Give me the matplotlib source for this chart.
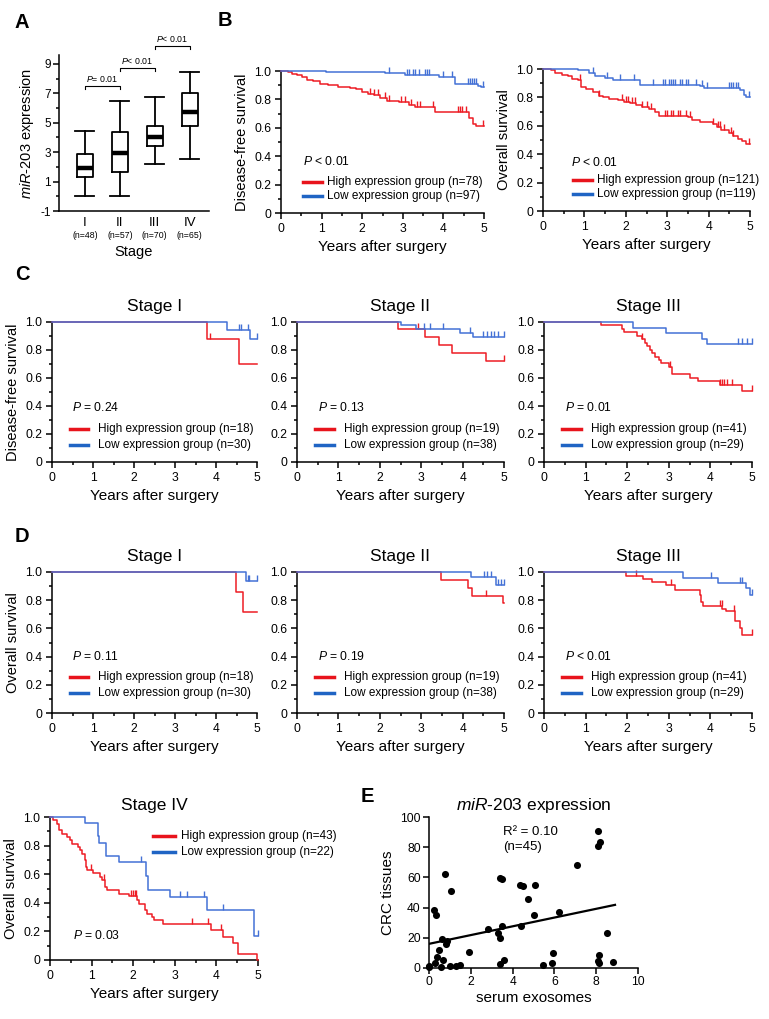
import matplotlib
matplotlib.use('Agg')
import matplotlib.pyplot as plt
import numpy as np
from matplotlib.ticker import MultipleLocator, FixedLocator

plt.rcParams['font.family'] = ['Liberation Sans', 'DejaVu Sans']
plt.rcParams['mathtext.fontset'] = 'custom'
plt.rcParams['mathtext.rm'] = 'Liberation Sans'
plt.rcParams['mathtext.it'] = 'Liberation Sans:italic'
plt.rcParams['axes.linewidth'] = 1.1
plt.rcParams['axes.unicode_minus'] = False

RED = '#ee1c24'
BLUE = '#4471d6'
LRED = '#e8141c'
LBLUE = '#1f64c4'

# ---------------- Panel A data ----------------
stages = ['I', 'II', 'III', 'IV']
stage_n = [48, 57, 70, 65]
box_low = [0.0, 0.0, 2.2, 2.5]
box_q1 = [1.3, 1.65, 3.45, 4.75]
box_med = [1.95, 2.95, 4.05, 5.7]
box_q3 = [2.85, 4.4, 4.75, 7.05]
box_high = [4.45, 6.45, 6.75, 8.45]
brk_left = [1, 2, 3]
brk_right = [2, 3, 4]
brk_y = [7.5, 8.75, 10.2]
brk_text = ['= 0.01', '< 0.01', '< 0.01']

# ---------------- Panel B data ----------------
bdfs_high_t = [0.18, 0.28, 0.4, 0.52, 0.63, 0.8, 0.95, 1.15, 1.4, 1.7, 1.85, 2.0, 2.15, 2.3, 2.45, 2.6, 2.9, 3.15, 3.3, 3.8, 4.62, 4.72, 4.8]
bdfs_high_s = [0.99, 0.98, 0.97, 0.96, 0.94, 0.93, 0.91, 0.90, 0.89, 0.88, 0.87, 0.85, 0.84, 0.83, 0.81, 0.79, 0.78, 0.76, 0.75, 0.71, 0.67, 0.63, 0.61]
bdfs_high_c = [2.2, 2.3, 2.38, 2.55, 2.65, 2.95, 3.05, 3.2, 3.35, 3.42, 3.75, 4.35, 4.4, 4.45, 4.55, 4.98]
bdfs_low_t = [1.1, 2.55, 3.05, 3.88, 4.28, 4.85, 4.93]
bdfs_low_s = [0.995, 0.985, 0.97, 0.955, 0.91, 0.895, 0.885]
bdfs_low_c = [2.65, 3.1, 3.15, 3.25, 3.3, 3.4, 3.55, 3.6, 3.65, 4.0, 4.2, 4.6, 4.65, 4.7, 4.75, 4.8, 4.98]

bos_high_t = [0.2, 0.3, 0.45, 0.6, 0.7, 0.85, 0.92, 1.05, 1.2, 1.35, 1.45, 1.6, 1.8, 1.95, 2.1, 2.25, 2.4, 2.55, 2.7, 2.8, 3.5, 3.6, 3.8, 4.1, 4.2, 4.3, 4.5, 4.6, 4.7, 4.8, 4.9]
bos_high_s = [0.99, 0.97, 0.96, 0.95, 0.93, 0.92, 0.87, 0.86, 0.84, 0.81, 0.80, 0.79, 0.78, 0.77, 0.76, 0.75, 0.73, 0.72, 0.70, 0.67, 0.66, 0.64, 0.63, 0.61, 0.59, 0.57, 0.55, 0.53, 0.51, 0.49, 0.47]
bos_high_c = [0.9, 1.35, 1.9, 2.0, 2.05, 2.15, 2.22, 2.4, 2.5, 2.6, 2.95, 3.0, 3.1, 3.15, 3.25, 3.3, 3.45, 3.55, 4.1, 4.22, 4.28, 4.38, 4.55, 4.6, 4.98]
bos_low_t = [0.85, 1.1, 1.25, 1.5, 1.7, 2.35, 3.8, 3.9, 4.75, 4.85, 4.9]
bos_low_s = [0.99, 0.97, 0.95, 0.935, 0.92, 0.89, 0.88, 0.865, 0.85, 0.82, 0.805]
bos_low_c = [1.2, 1.55, 1.85, 2.2, 2.65, 2.9, 2.95, 3.05, 3.1, 3.15, 3.2, 3.3, 3.35, 3.45, 3.5, 3.7, 3.85, 3.95, 4.5, 4.55, 4.6, 4.65, 4.7, 4.98]

# ---------------- Panel C data (DFS by stage) ----------------
c1_high_t = [3.79, 4.57]
c1_high_s = [0.875, 0.70]
c1_high_c = [3.85]
c1_low_t = [4.27, 4.83]
c1_low_s = [0.945, 0.88]
c1_low_c = [4.57, 4.61, 4.78, 5.0]

c2_high_t = [2.45, 3.08, 3.42, 3.74, 4.57]
c2_high_s = [0.947, 0.89, 0.835, 0.78, 0.72]
c2_high_c = [2.93, 5.0]
c2_low_t = [2.5, 2.88, 3.93, 4.25]
c2_low_s = [0.975, 0.95, 0.92, 0.89]
c2_low_c = [3.06, 3.22, 3.53, 4.19, 4.5, 4.6, 4.68, 4.75, 4.85, 5.0]

c3_high_t = [1.36, 1.88, 1.93, 2.23, 2.36, 2.42, 2.48, 2.54, 2.6, 2.66, 2.76, 2.82, 3.0, 3.08, 3.51, 3.71, 4.23, 4.75]
c3_high_s = [0.975, 0.95, 0.925, 0.90, 0.875, 0.85, 0.825, 0.80, 0.775, 0.75, 0.73, 0.705, 0.68, 0.63, 0.60, 0.575, 0.55, 0.51]
c3_high_c = [2.36, 3.04, 4.23, 4.28, 4.33, 4.39, 4.51, 5.0]
c3_low_t = [2.13, 2.93, 3.81, 3.93]
c3_low_s = [0.96, 0.92, 0.88, 0.84]
c3_low_c = [4.66, 4.75, 4.87, 5.0]

# ---------------- Panel D data (OS by stage) ----------------
d1_high_t = [4.49, 4.67]
d1_high_s = [0.86, 0.715]
d1_high_c = []
d1_low_t = [4.73]
d1_low_s = [0.935]
d1_low_c = [4.79, 4.81, 5.0]

d2_high_t = [3.48, 4.12, 4.22, 4.98]
d2_high_s = [0.945, 0.89, 0.83, 0.78]
d2_high_c = [4.56]
d2_low_t = [4.2, 4.81]
d2_low_s = [0.965, 0.905]
d2_low_c = [4.52, 4.6, 4.68, 4.85, 4.93, 5.0]

d3_high_t = [1.98, 2.38, 2.6, 2.93, 3.16, 3.74, 3.78, 3.82, 4.28, 4.38, 4.6, 4.72, 4.76]
d3_high_s = [0.975, 0.95, 0.93, 0.905, 0.875, 0.84, 0.79, 0.76, 0.74, 0.72, 0.65, 0.60, 0.55]
d3_high_c = [2.22, 3.05, 4.24, 4.27, 4.56, 5.0]
d3_low_t = [3.34, 4.19, 4.86, 4.94]
d3_low_s = [0.96, 0.925, 0.89, 0.84]
d3_low_c = [4.01, 4.7, 4.75, 5.0]

iv_high_t = [0.08, 0.16, 0.22, 0.3, 0.4, 0.48, 0.52, 0.68, 0.72, 0.76, 0.84, 0.87, 0.9, 1.04, 1.2, 1.24, 1.32, 1.36, 1.67, 1.89, 2.09, 2.15, 2.28, 2.34, 2.45, 2.5, 2.71, 3.88, 4.16, 4.41, 4.53, 4.98]
iv_high_s = [0.977, 0.953, 0.907, 0.884, 0.86, 0.837, 0.814, 0.79, 0.767, 0.744, 0.70, 0.65, 0.628, 0.605, 0.58, 0.558, 0.512, 0.49, 0.465, 0.45, 0.42, 0.395, 0.35, 0.325, 0.30, 0.28, 0.25, 0.21, 0.16, 0.12, 0.045, 0.0]
iv_high_c = [0.98, 1.3, 1.94, 2.0, 2.04, 2.07, 3.41, 3.81, 4.11]
iv_low_t = [0.84, 1.15, 1.18, 1.35, 1.65, 2.3, 2.35, 2.89, 3.78, 4.9]
iv_low_s = [0.955, 0.864, 0.818, 0.727, 0.682, 0.59, 0.49, 0.44, 0.35, 0.17]
iv_low_c = [2.19, 3.13, 3.29, 3.69, 4.15, 5.0]

# ---------------- Panel E data ----------------
exo_x = [8.1, 8.19, 8.11, 7.07, 0.75, 3.42, 3.47, 4.35, 4.48, 5.07, 1.04, 4.75, 0.22, 0.35, 5.04,
         6.22, 3.47, 4.38, 2.83, 3.31, 8.51, 3.42, 0.61, 0.88, 0.83, 0.48, 1.9, 5.95, 8.14, 0.4,
         0.67, 3.6, 8.08, 8.13, 8.8, 0.27, 3.42, 5.9, 5.47, 0.0, 0.59, 0.99, 1.31, 1.47, 0.02]
tis_y = [90.5, 83.5, 80.5, 68, 62, 59.5, 59, 55, 54, 55, 51, 46, 38.5, 35, 35,
         37, 28, 28, 26, 23, 23, 20, 19, 18, 16, 12, 10.5, 10, 8.5, 7.5,
         5, 5.5, 4.5, 3.5, 4, 3, 2.5, 3, 2, 1.5, 0.5, 1.5, 1.5, 2, 0.7]
fit_intercept = 16.0
fit_slope = 2.9
fit_xmax = 8.9

W, H = 769, 1019
fig = plt.figure(figsize=(W / 100, H / 100), dpi=100)


def rect(x0, x1, y0, y1):
    return [x0 / W, 1 - y1 / H, (x1 - x0) / W, (y1 - y0) / H]


def ptext(x, y, s, **kw):
    fig.text(x / W, 1 - y / H, s, **kw)


# ---------------- Panel A ----------------
axA = fig.add_axes(rect(59, 209, 55, 211))
stats = [dict(med=m, q1=a, q3=b, whislo=lo, whishi=hi, label=lab)
         for m, a, b, lo, hi, lab in zip(box_med, box_q1, box_q3, box_low, box_high, stages)]
axA.bxp(stats, positions=[1, 2, 3, 4], widths=0.45, showfliers=False, capwidths=0.55,
        boxprops=dict(lw=1.3, color='black'), whiskerprops=dict(lw=1.3, color='black'),
        capprops=dict(lw=1.3, color='black'), medianprops=dict(lw=3.2, color='black', solid_capstyle='butt'))
axA.set_xlim(0.26, 4.55)
axA.set_ylim(-1, 9.6)
axA.spines['top'].set_visible(False)
axA.spines['right'].set_visible(False)
axA.yaxis.set_major_locator(FixedLocator([-1, 1, 3, 5, 7, 9]))
axA.yaxis.set_minor_locator(FixedLocator([0, 2, 4, 6, 8]))
axA.tick_params(axis='y', which='major', direction='out', length=4, width=1.1, labelsize=8.5, pad=2)
axA.tick_params(axis='y', which='minor', direction='out', length=2.5, width=1.1)
axA.tick_params(axis='x', length=0, labelsize=9.5, pad=4)
axA.set_xticks([1, 2, 3, 4])
axA.set_xticklabels(stages)
for i, n in enumerate(stage_n):
    axA.annotate(f'(n={n})', xy=(i + 1, 0), xycoords=('data', 'axes fraction'),
                 xytext=(0, -17.5), textcoords='offset points', ha='center', va='center', fontsize=6.3)
axA.annotate('Stage', xy=(0.5, 0), xycoords='axes fraction', xytext=(0, -29.5),
             textcoords='offset points', ha='center', va='center', fontsize=10.5)
axA.set_ylabel(r'$\it{miR}$-$\it{203}$ expression', fontsize=10.5, labelpad=3)
for l, r, y, t in zip(brk_left, brk_right, brk_y, brk_text):
    axA.plot([l, l, r, r], [y - 0.22, y, y, y - 0.22], color='black', lw=0.8, clip_on=False)
    axA.text((l + r) / 2, y + 0.12, r'$\it{P}$' + t, ha='center', va='bottom', fontsize=6.3, clip_on=False)


# ---------------- KM helpers ----------------
def km_axes(r, ylabel=None, title=None, title_pad=8):
    ax = fig.add_axes(r)
    ax.set_xlim(0, 5)
    ax.set_ylim(0, 1)
    ax.spines['top'].set_visible(False)
    ax.spines['right'].set_visible(False)
    ax.xaxis.set_major_locator(MultipleLocator(1))
    ax.xaxis.set_minor_locator(MultipleLocator(0.5))
    ax.yaxis.set_major_locator(FixedLocator([0, 0.2, 0.4, 0.6, 0.8, 1.0]))
    ax.yaxis.set_minor_locator(FixedLocator([0.1, 0.3, 0.5, 0.7, 0.9]))
    ax.set_yticklabels(['0', '0.2', '0.4', '0.6', '0.8', '1.0'])
    ax.tick_params(which='major', direction='out', length=4, width=1.1, labelsize=8.7, pad=3)
    ax.tick_params(which='minor', direction='out', length=2.5, width=1.1)
    ax.set_xlabel('Years after surgery', fontsize=11, labelpad=4)
    if ylabel:
        ax.set_ylabel(ylabel, fontsize=10.5, labelpad=4)
    if title:
        ax.set_title(title, fontsize=12.5, pad=title_pad)
    return ax


def km_curve(ax, t, s, c, color, end=5.0):
    tt = np.concatenate([[0.0], t, [end]])
    ss = np.concatenate([[1.0], s, [s[-1]]])
    ax.step(tt, ss, where='post', color=color, lw=1.1, clip_on=False, zorder=3)
    if len(c):
        idx = np.searchsorted(tt, c, side='right') - 1
        idx = np.clip(idx, 0, len(ss) - 1)
        ax.plot(c, ss[idx], ls='none', marker=2, ms=4.2, mew=1.0, color=color, clip_on=False, zorder=3)


def km_legend(ax, ptxt, n_high, n_low, px, py, lx0, lx1, tx, ry, by):
    ax.text(px, py, r'$\it{P}$' + ptxt, transform=ax.transAxes, fontsize=8.7, va='center', ha='left')
    ax.plot([lx0, lx1], [ry, ry], transform=ax.transAxes, color=LRED, lw=2.5, clip_on=False)
    ax.plot([lx0, lx1], [by, by], transform=ax.transAxes, color=LBLUE, lw=2.5, clip_on=False)
    ax.text(tx, ry, f'High expression group (n={n_high})', transform=ax.transAxes, fontsize=8.5, va='center')
    ax.text(tx, by, f'Low expression group (n={n_low})', transform=ax.transAxes, fontsize=8.5, va='center')


# ---------------- Panel B ----------------
axB1 = km_axes(rect(281, 484, 71, 213), ylabel='Disease-free survival')
km_curve(axB1, bdfs_high_t, bdfs_high_s, bdfs_high_c, RED)
km_curve(axB1, bdfs_low_t, bdfs_low_s, bdfs_low_c, BLUE)
km_legend(axB1, ' < 0.01', 78, 97, 0.11, 0.36, 0.11, 0.2, 0.225, 0.22, 0.12)

axB2 = km_axes(rect(543, 750, 69, 211), ylabel='Overall survival')
km_curve(axB2, bos_high_t, bos_high_s, bos_high_c, RED)
km_curve(axB2, bos_low_t, bos_low_s, bos_low_c, BLUE)
km_legend(axB2, ' < 0.01', 121, 119, 0.135, 0.345, 0.145, 0.235, 0.26, 0.22, 0.12)

# ---------------- Panel C ----------------
C_cols = [(52, 257), (297, 504), (544, 752)]
C_data = [(c1_high_t, c1_high_s, c1_high_c, c1_low_t, c1_low_s, c1_low_c, ' = 0.24', 18, 30),
          (c2_high_t, c2_high_s, c2_high_c, c2_low_t, c2_low_s, c2_low_c, ' = 0.13', 19, 38),
          (c3_high_t, c3_high_s, c3_high_c, c3_low_t, c3_low_s, c3_low_c, ' = 0.01', 41, 29)]
titles = ['Stage I', 'Stage II', 'Stage III']
for i, ((x0, x1), d) in enumerate(zip(C_cols, C_data)):
    ax = km_axes(rect(x0, x1, 322, 462), ylabel='Disease-free survival' if i == 0 else None, title=titles[i])
    km_curve(ax, d[0], d[1], d[2], RED)
    km_curve(ax, d[3], d[4], d[5], BLUE)
    km_legend(ax, d[6], d[7], d[8], 0.1, 0.39, 0.088, 0.178, 0.225, 0.235, 0.12)

# ---------------- Panel D ----------------
D_data = [(d1_high_t, d1_high_s, d1_high_c, d1_low_t, d1_low_s, d1_low_c, ' = 0.11', 18, 30),
          (d2_high_t, d2_high_s, d2_high_c, d2_low_t, d2_low_s, d2_low_c, ' = 0.19', 19, 38),
          (d3_high_t, d3_high_s, d3_high_c, d3_low_t, d3_low_s, d3_low_c, ' < 0.01', 41, 29)]
for i, ((x0, x1), d) in enumerate(zip(C_cols, D_data)):
    ax = km_axes(rect(x0, x1, 572, 713), ylabel='Overall survival' if i == 0 else None, title=titles[i])
    km_curve(ax, d[0], d[1], d[2], RED)
    km_curve(ax, d[3], d[4], d[5], BLUE)
    km_legend(ax, d[6], d[7], d[8], 0.1, 0.40, 0.088, 0.178, 0.225, 0.255, 0.145)

# ---------------- Stage IV ----------------
axIV = km_axes(rect(50, 258, 817, 960), ylabel='Overall survival', title='Stage IV', title_pad=5)
km_curve(axIV, iv_high_t, iv_high_s, iv_high_c, RED)
km_curve(axIV, iv_low_t, iv_low_s, iv_low_c, BLUE)
axIV.text(0.11, 0.17, r'$\it{P}$ = 0.03', transform=axIV.transAxes, fontsize=8.7, va='center')
axIV.plot([0.495, 0.6], [0.87, 0.87], transform=axIV.transAxes, color=LRED, lw=2.5, clip_on=False)
axIV.plot([0.495, 0.6], [0.755, 0.755], transform=axIV.transAxes, color=LBLUE, lw=2.5, clip_on=False)
axIV.text(0.63, 0.87, 'High expression group (n=43)', transform=axIV.transAxes, fontsize=8.5, va='center')
axIV.text(0.63, 0.755, 'Low expression group (n=22)', transform=axIV.transAxes, fontsize=8.5, va='center')

# ---------------- Panel E ----------------
axE = fig.add_axes(rect(429, 638, 817, 968))
axE.scatter(exo_x, tis_y, s=26, color='black', zorder=3, clip_on=False, linewidths=0)
fx = np.array([0.0, fit_xmax])
axE.plot(fx, fit_intercept + fit_slope * fx, color='black', lw=1.6)
axE.set_xlim(0, 10)
axE.set_ylim(0, 100)
axE.spines['top'].set_visible(False)
axE.spines['right'].set_visible(False)
axE.xaxis.set_major_locator(MultipleLocator(2))
axE.yaxis.set_major_locator(MultipleLocator(20))
axE.tick_params(which='major', direction='out', length=4, width=1.1, labelsize=8.7, pad=2)
axE.set_xlabel('serum exosomes', fontsize=11, labelpad=2)
axE.set_ylabel('CRC tissues', fontsize=11, labelpad=4)
axE.set_title(r'$\it{miR}$-$\it{203}$ expression', fontsize=12.5, pad=5)
axE.text(0.355, 0.9, 'R² = 0.10', transform=axE.transAxes, fontsize=9.5, va='center')
axE.text(0.355, 0.8, '(n=45)', transform=axE.transAxes, fontsize=9.5, va='center')

# ---------------- Panel letters ----------------
for lab, x, y in [('A', 22, 22), ('B', 225, 20), ('C', 22, 275), ('D', 22, 537), ('E', 367, 796)]:
    ptext(x, y, lab, fontsize=14.5, fontweight='bold', ha='center', va='center')

fig.savefig('out.png', dpi=100)
